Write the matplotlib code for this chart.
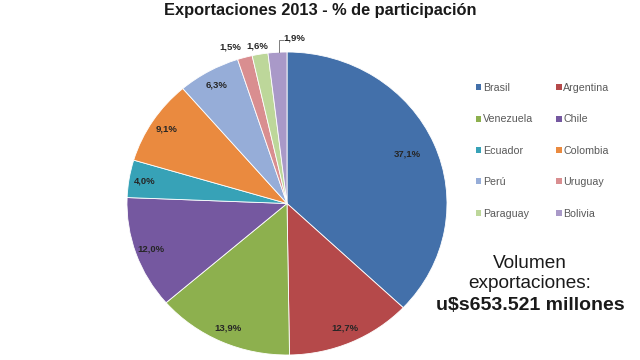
import numpy as np
import matplotlib
matplotlib.use("Agg")
import matplotlib.pyplot as plt
from matplotlib.patches import Patch

plt.rcParams['font.family'] = ['Liberation Sans', 'DejaVu Sans']

categories = ["Brasil", "Argentina", "Venezuela", "Chile", "Ecuador",
              "Colombia", "Perú", "Uruguay", "Paraguay", "Bolivia"]
values = [37.1, 12.7, 13.9, 12.0, 4.0, 9.1, 6.3, 1.5, 1.6, 1.9]
labels = ["37,1%", "12,7%", "13,9%", "12,0%", "4,0%", "9,1%", "6,3%",
          "1,5%", "1,6%", "1,9%"]
colors = ["#4370AA", "#B5494A", "#8DB04E", "#7558A0", "#37A2B7",
          "#EA8A3F", "#96ADD8", "#D98E90", "#BDD79A", "#A999C8"]

fig = plt.figure(figsize=(6.4, 3.6), dpi=100)
fig.patch.set_facecolor("white")

# pie axes (slightly stretched horizontally as in the reference)
ax = fig.add_axes([127/640, 5/360, 320/640, 303/360])
wedges, _ = ax.pie(values, colors=colors, startangle=90, counterclock=False,
                   wedgeprops=dict(edgecolor="white", linewidth=0.6))
ax.set_aspect("auto")
ax.set_xlim(-1, 1)
ax.set_ylim(-1, 1)

# data labels
outside = {"Uruguay": (1.09, 3.7), "Paraguay": (1.057, 0.5)}
for w, cat, lab in zip(wedges, categories, labels):
    mid = np.deg2rad((w.theta1 + w.theta2) / 2)
    if cat in outside:
        r, dang = outside[cat]
        a = mid + np.deg2rad(dang)
        x, y = r * np.cos(a), r * np.sin(a)
    elif cat == "Bolivia":
        x, y = 0.044, 1.09
        ax.plot([-0.05, -0.05, -0.025], [1.0, 1.08, 1.08],
                color="#7f7f7f", lw=0.7, clip_on=False)
    else:
        r = 0.82 if cat == "Brasil" else 0.9
        x, y = r * np.cos(mid), r * np.sin(mid)
    ax.text(x, y, lab, ha="center", va="center", fontsize=6.8,
            fontweight="bold", color="#262626", clip_on=False)

# title
fig.text(0.5, 1 - 10/360, "Exportaciones 2013 - % de participación",
         ha="center", va="center", fontsize=11.8, fontweight="bold",
         color="#1a1a1a")

# legend (row-wise order, two columns)
order = [0, 2, 4, 6, 8, 1, 3, 5, 7, 9]
handles = [Patch(facecolor=colors[i], edgecolor="none") for i in order]
leg = fig.legend(handles, [categories[i] for i in order], ncol=2,
                 loc="upper left", bbox_to_anchor=(476/640, 1 - 83/360),
                 frameon=False, fontsize=7.7, handlelength=0.5,
                 handleheight=0.5, handletextpad=0.15, labelspacing=2.0,
                 columnspacing=2.15, borderaxespad=0, borderpad=0)
for t in leg.get_texts():
    t.set_color("#595959")

# volume annotation
fig.text(530/640, 1 - 263/360, "Volumen", ha="center", va="center",
         fontsize=13.7, color="#1a1a1a")
fig.text(530/640, 1 - 284/360, "exportaciones:", ha="center", va="center",
         fontsize=13.7, color="#1a1a1a")
fig.text(530/640, 1 - 305/360, "u$s653.521 millones", ha="center",
         va="center", fontsize=14, fontweight="bold", color="#1a1a1a")

fig.savefig("out.png", dpi=100, facecolor="white")
